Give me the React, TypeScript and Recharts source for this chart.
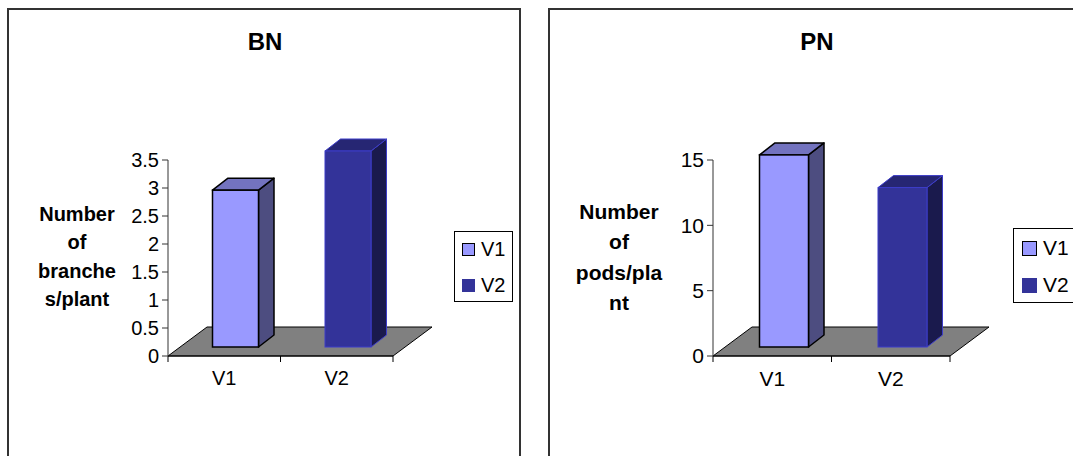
import React from 'react';
import { Bar, BarChart, ReferenceArea, XAxis, YAxis } from 'recharts';

const CATEGORIES = ['V1', 'V2'];
const BN_VALUES = [2.8, 3.5];
const PN_VALUES = [14.7, 12.2];
const BN_TICKS = [0, 0.5, 1, 1.5, 2, 2.5, 3, 3.5];
const PN_TICKS = [0, 5, 10, 15];
const BN_LABEL = ['Number', 'of', 'branche', 's/plant'];
const PN_LABEL = ['Number', 'of', 'pods/pla', 'nt'];

const FONT = '"Liberation Sans", Arial, sans-serif';

// excel-ish 3d colours per category: front, top, side, outline
const PALETTE = [
  { front: '#9999FF', top: '#7373BF', side: '#4D4D80', stroke: '#000000', sw: 1.5 },
  { front: '#333399', top: '#262673', side: '#1A1A4D', stroke: '#3C3CC8', sw: 1 },
];

// depth offsets (px)
const SET_X = 11.5;
const SET_Y = 9;
const DEP_X = 15.5;
const DEP_Y = 12;
const FLOOR_X = 39;
const FLOOR_Y = 29;

const Box3D = (props: any) => {
  const { x, y, width, height, index } = props;
  const c = PALETTE[index % PALETTE.length];
  const bx = x + SET_X;
  const top = y - SET_Y;
  const bottom = y + height - SET_Y;
  const r = bx + width;
  return (
    <g>
      <polygon
        points={`${r},${top} ${r + DEP_X},${top - DEP_Y} ${r + DEP_X},${bottom - DEP_Y} ${r},${bottom}`}
        fill={c.side}
        stroke={c.stroke}
        strokeWidth={c.sw}
        strokeLinejoin="round"
      />
      <polygon
        points={`${bx},${top} ${r},${top} ${r + DEP_X},${top - DEP_Y} ${bx + DEP_X},${top - DEP_Y}`}
        fill={c.top}
        stroke={c.stroke}
        strokeWidth={c.sw}
        strokeLinejoin="round"
      />
      <rect x={bx} y={top} width={width} height={bottom - top} fill={c.front} stroke={c.stroke} strokeWidth={c.sw} />
    </g>
  );
};

const Floor = (props: any) => {
  const { x, y, width, height } = props;
  const base = y + height;
  const n = CATEGORIES.length;
  const ticks = [];
  for (let i = 0; i <= n; i++) {
    const tx = x + (width * i) / n;
    ticks.push(<line key={i} x1={tx} y1={base} x2={tx} y2={base + 6} stroke="#000" strokeWidth={1} />);
  }
  return (
    <g>
      <polygon
        points={`${x},${base} ${x + width},${base} ${x + width + FLOOR_X},${base - FLOOR_Y} ${x + FLOOR_X},${base - FLOOR_Y}`}
        fill="#808080"
        stroke="#000"
        strokeWidth={1}
      />
      {ticks}
    </g>
  );
};

type PanelProps = {
  title: string;
  values: number[];
  ticks: number[];
  label: string[];
  left: number;
  chartWidth: number;
  marginLeft: number;
  marginRight: number;
  barSize: number;
  panelWidth: number;
  titleX: number;
  labelX: number;
  labelTop: number;
  labelStep: number;
  labelSize: number;
  tickSize: number;
  legend: { x: number; y: number; w: number; h: number; sq: number; sqX: number; textX: number; rows: number[] };
};

const Panel = (p: PanelProps) => {
  const data = CATEGORIES.map((name, i) => ({ name, value: p.values[i] }));
  const max = p.ticks[p.ticks.length - 1];
  return (
    <>
      <div
        style={{
          position: 'absolute',
          left: p.left + (p.left === 0 ? 7 : 8),
          top: 8,
          width: p.panelWidth,
          height: 470,
          border: '2px solid #333',
          boxSizing: 'border-box',
        }}
      />
      <div
        style={{
          position: 'absolute',
          left: p.titleX - 60,
          top: 28,
          width: 120,
          textAlign: 'center',
          fontFamily: FONT,
          fontWeight: 'bold',
          fontSize: 24,
          lineHeight: '28px',
        }}
      >
        {p.title}
      </div>
      {p.label.map((t, i) => (
        <div
          key={t}
          style={{
            position: 'absolute',
            left: p.labelX - 70,
            top: p.labelTop + i * p.labelStep - 14,
            width: 140,
            textAlign: 'center',
            fontFamily: FONT,
            fontWeight: 'bold',
            fontSize: p.labelSize,
            lineHeight: '28px',
          }}
        >
          {t}
        </div>
      ))}
      <div style={{ position: 'absolute', left: p.left, top: 0 }}>
        <BarChart
          width={p.chartWidth}
          height={456}
          data={data}
          margin={{ top: 160, right: p.marginRight, bottom: 70, left: p.marginLeft }}
        >
          <XAxis
            dataKey="name"
            axisLine={{ stroke: '#000', strokeWidth: 1 }}
            tickLine={false}
            tickSize={6}
            tickMargin={9}
            height={30}
            tick={{ fill: '#000', fontSize: p.tickSize, fontFamily: FONT }}
          />
          <YAxis
            type="number"
            domain={[0, max]}
            ticks={p.ticks}
            interval={0}
            width={60}
            axisLine={{ stroke: '#333', strokeWidth: 1 }}
            tickLine={{ stroke: '#333' }}
            tickSize={6}
            tickMargin={3}
            tick={{ fill: '#000', fontSize: p.tickSize, fontFamily: FONT }}
          />
          <ReferenceArea y1={0} y2={max} shape={(a: any) => <Floor {...a} />} />
          <Bar dataKey="value" barSize={p.barSize} shape={(a: any) => <Box3D {...a} />} isAnimationActive={false} />
        </BarChart>
      </div>
      <div
        style={{
          position: 'absolute',
          left: p.legend.x,
          top: p.legend.y,
          width: p.legend.w,
          height: p.legend.h,
          border: '1px solid #000',
          boxSizing: 'border-box',
          background: '#fff',
          fontFamily: FONT,
          fontSize: p.tickSize,
        }}
      >
        {CATEGORIES.map((c, i) => (
          <React.Fragment key={c}>
            <div
              style={{
                position: 'absolute',
                left: p.legend.sqX,
                top: p.legend.rows[i] - p.legend.sq / 2,
                width: p.legend.sq,
                height: p.legend.sq,
                background: PALETTE[i].front,
                border: i === 0 ? '1.5px solid #000' : 'none',
                boxSizing: 'border-box',
              }}
            />
            <div
              style={{
                position: 'absolute',
                left: p.legend.textX,
                top: p.legend.rows[i] - 12,
                lineHeight: '24px',
              }}
            >
              {c}
            </div>
          </React.Fragment>
        ))}
      </div>
    </>
  );
};

export default function App() {
  return (
    <div
      style={{
        position: 'absolute',
        left: 0,
        top: 0,
        width: 1073,
        height: 456,
        overflow: 'hidden',
        background: '#fff',
      }}
    >
      <Panel
        title="BN"
        values={BN_VALUES}
        ticks={BN_TICKS}
        label={BN_LABEL}
        left={0}
        chartWidth={540}
        marginLeft={108}
        marginRight={147}
        barSize={46}
        panelWidth={514}
        titleX={265}
        labelX={77}
        labelTop={214}
        labelStep={28.4}
        labelSize={20}
        tickSize={20}
        legend={{ x: 454, y: 231, w: 59, h: 71, sq: 13, sqX: 7, textX: 26, rows: [17, 53] }}
      />
      <Panel
        title="PN"
        values={PN_VALUES}
        ticks={PN_TICKS}
        label={PN_LABEL}
        left={540}
        chartWidth={533}
        marginLeft={113}
        marginRight={123}
        barSize={49}
        panelWidth={540}
        titleX={817}
        labelX={619}
        labelTop={212}
        labelStep={30.3}
        labelSize={21}
        tickSize={21}
        legend={{ x: 1013, y: 228, w: 70, h: 75, sq: 15, sqX: 8, textX: 29, rows: [19, 56] }}
      />
    </div>
  );
}
